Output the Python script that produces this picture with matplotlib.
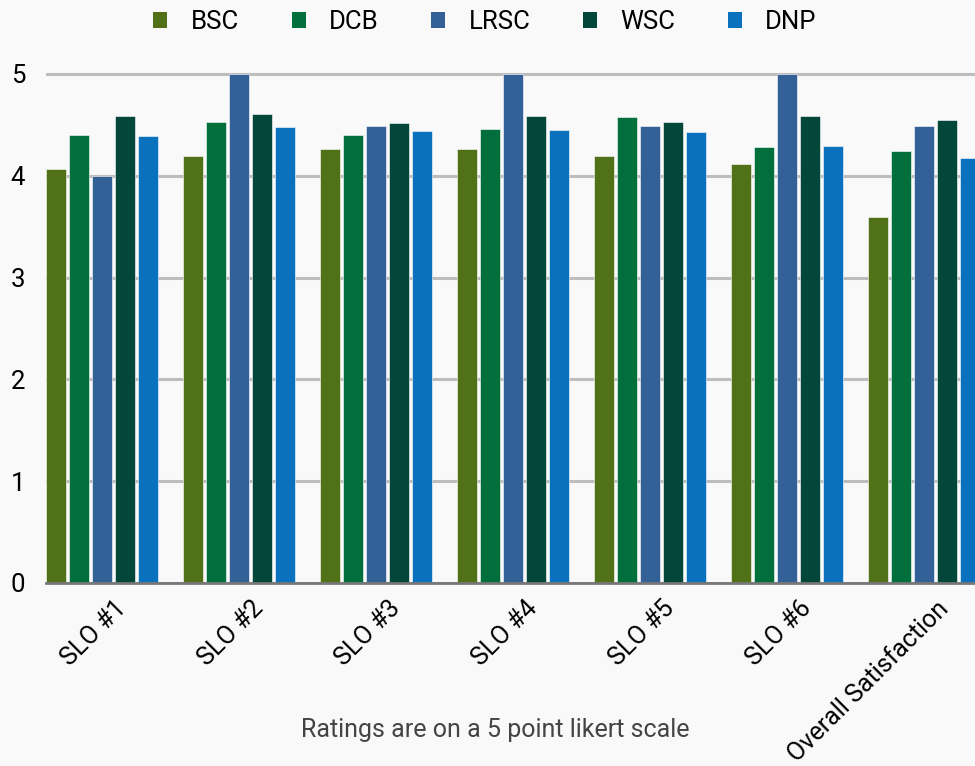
import numpy as np
import matplotlib
matplotlib.use('Agg')
import matplotlib.pyplot as plt
import matplotlib.transforms as mtransforms
from matplotlib.patches import Patch

plt.rcParams['font.family'] = ['Roboto', 'DejaVu Sans']

categories = ['SLO #1', 'SLO #2', 'SLO #3', 'SLO #4', 'SLO #5', 'SLO #6',
              'Overall Satisfaction']
series_names = ['BSC', 'DCB', 'LRSC', 'WSC', 'DNP']
bsc = [4.07, 4.19, 4.26, 4.26, 4.19, 4.12, 3.60]
dcb = [4.40, 4.53, 4.40, 4.46, 4.58, 4.28, 4.24]
lrsc = [4.00, 5.00, 4.49, 5.00, 4.49, 5.00, 4.49]
wsc = [4.59, 4.61, 4.52, 4.59, 4.53, 4.59, 4.55]
dnp = [4.39, 4.48, 4.44, 4.45, 4.43, 4.29, 4.17]
colors = ['#507118', '#006F3C', '#336096', '#03463A', '#0971BD']

series = [bsc, dcb, lrsc, wsc, dnp]

W, H = 975, 766
fig = plt.figure(figsize=(W / 100, H / 100), dpi=100)
fig.patch.set_facecolor('#F9F9F9')

# axes spans past the right edge, like the reference (last bars clipped)
ax = fig.add_axes([46 / W, (H - 583) / H, 959 / W, (583 - 68.9) / H])
ax.set_facecolor('#F9F9F9')

x = np.arange(len(categories))
step = 23 / 137
width = 20 / 137
for i, (name, vals, c) in enumerate(zip(series_names, series, colors)):
    ax.bar(x + (i - 2) * step, vals, width, color=c, label=name,
           edgecolor='#FFFFFF', linewidth=0.4, zorder=3)

ax.set_xlim(-0.409, 6.591)
ax.set_ylim(0, 5.05)
ax.set_yticks([0, 1, 2, 3, 4, 5])
ax.yaxis.grid(True, color='#BDBDBD', linewidth=2.2, zorder=0)
ax.tick_params(axis='y', length=0, pad=15, labelsize=18.5)
ax.tick_params(axis='x', length=0, pad=6, labelsize=18)
for s in ['top', 'right', 'left']:
    ax.spines[s].set_visible(False)
ax.spines['bottom'].set_color('#777777')
ax.spines['bottom'].set_linewidth(2)
ax.spines['bottom'].set_zorder(4)

ax.set_xticks(x)
ax.set_xticklabels(categories, rotation=45, ha='right', rotation_mode='anchor')
shift = mtransforms.ScaledTranslation(12 / 100, -5 / 100, fig.dpi_scale_trans)
for lbl in ax.get_xticklabels():
    lbl.set_transform(lbl.get_transform() + shift)

handles = [Patch(facecolor=c, label=n) for n, c in zip(series_names, colors)]
fig.legend(handles=handles, loc='center', bbox_to_anchor=(485 / W, (H - 22) / H),
           ncol=5, frameon=False, fontsize=18.5, handlelength=0.55,
           handleheight=0.55, handletextpad=0.9, columnspacing=2.05)

fig.text(495 / W, (H - 730) / H, 'Ratings are on a 5 point likert scale',
         ha='center', va='center', fontsize=18, color='#444444')

plt.savefig('out.png', dpi=100, facecolor=fig.get_facecolor())
